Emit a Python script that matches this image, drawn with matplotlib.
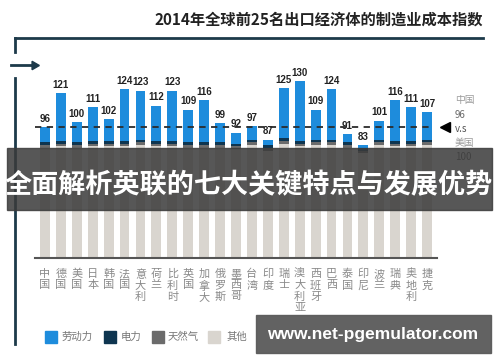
"""Manufacturing cost index 2014, top 25 exporting economies"""
import matplotlib
matplotlib.use('Agg')
import matplotlib.pyplot as plt
from matplotlib.patches import Rectangle

plt.rcParams['font.family'] = ['Noto Sans CJK SC', 'DejaVu Sans']

countries = ['中国', '德国', '美国', '日本', '韩国', '法国', '意大利', '荷兰', '比利时',
             '英国', '加拿大', '俄罗斯', '墨西哥', '台湾', '印度', '瑞士', '澳大利亚',
             '西班牙', '巴西', '泰国', '印尼', '波兰', '瑞典', '奥地利', '捷克']
totals = [96, 121, 100, 111, 102, 124, 123, 112, 123, 109, 116, 99, 92, 97, 87,
          125, 130, 109, 124, 91, 83, 101, 116, 111, 107]
labor = [11, 35, 15, 25, 16, 38, 36, 26, 37, 24, 31, 14, 8, 10, 4,
         37, 44, 22, 37, 6, 2, 14, 30, 25, 20]
electricity = [2, 2, 2, 2, 2, 2, 2, 2, 2, 2, 2, 2, 2, 2, 2,
               2, 2, 2, 2, 2, 2, 2, 2, 2, 2]
gas = [2, 2, 2, 2, 2, 2, 2, 2, 2, 2, 2, 2, 2, 2, 2,
       2, 2, 2, 2, 2, 2, 2, 2, 2, 2]
other = [81, 82, 81, 82, 82, 82, 83, 82, 82, 81, 81, 81, 80, 83, 79,
         84, 82, 83, 83, 81, 77, 83, 82, 82, 83]
legend_labels = ['劳动力', '电力', '天然气', '其他']
colors = ['#1e8cdc', '#0e3550', '#6b6b6b', '#d9d5cf']
title = '2014年全球前25名出口经济体的制造业成本指数'
banner = '全面解析英联的七大关键特点与发展优势'
watermark = 'www.net-pgemulator.com'

W, H = 500, 362


def fx(px):
    return px / W


def fy(py):
    return 1 - py / H


fig = plt.figure(figsize=(5, 3.62), dpi=100)

ax = fig.add_axes([fx(35.4), fy(258), fx(436.6) - fx(35.4), (258 - 67.6) / H])
ax.set_xlim(-0.6, 24.6)
ax.set_ylim(0, 140)
ax.axis('off')

xs = list(range(len(countries)))
bw = 0.62
bottom = [0] * len(xs)
for series, col in [(other, colors[3]), (gas, colors[2]),
                    (electricity, colors[1]), (labor, colors[0])]:
    ax.bar(xs, series, bw, bottom=bottom, color=col, linewidth=0)
    bottom = [b + s for b, s in zip(bottom, series)]

for x, t in zip(xs, totals):
    ax.text(x, t + 2.5, str(t), ha='center', va='bottom', fontsize=7,
            fontweight='bold', color='#222222', family='Liberation Sans')

# reference line at China's level
ax.plot([-0.6, 24.4], [totals[0], totals[0]], ls=(0, (3.5, 3)), color='#2b2b2b',
        lw=1.3, zorder=5)
ax.plot(25.1, totals[0], marker='<', ms=7, color='black', clip_on=False, zorder=6)
ax.plot([-0.6, 24.6], [0, 0], color='#555555', lw=1.5, clip_on=False)

# right side note
for txt, py, col in [('中国', 100, '#9a9a9a'), ('96', 115, '#6a6a6a'),
                     ('v.s', 129, '#555555'), ('美国', 143, '#9a9a9a'),
                     ('100', 157, '#6a6a6a')]:
    fig.text(fx(455), fy(py), txt, fontsize=7, style='italic', color=col,
             va='center', ha='left')

# country labels, written vertically
for x, name in zip(xs, countries):
    px = 35.4 + (x + 0.6) * (436.6 - 35.4) / 25.2
    fig.text(fx(px), fy(269), '\n'.join(name), fontsize=8, color='#8a8a8a',
             ha='center', va='top', linespacing=1.15)

# title and frame
fig.text(fx(319), fy(20), title, fontsize=11, fontweight='bold',
         color='#222222', ha='center', va='center')
frame = '#1d3a4a'
fig.add_artist(plt.Line2D([fx(15), fx(483)], [fy(38), fy(38)], color=frame, lw=2))
fig.add_artist(plt.Line2D([fx(15), fx(15)], [fy(38), fy(52)], color=frame, lw=2))
fig.add_artist(plt.Line2D([fx(15), fx(15)], [fy(78), fy(344)], color=frame, lw=2))
fig.add_artist(plt.Line2D([fx(11), fx(33)], [fy(65), fy(65)], color=frame, lw=2))
fig.add_artist(plt.Line2D([fx(34)], [fy(65)], marker=(3, 0, -90), ms=7,
                          color=frame, lw=0))

# legend
for (px, lx), lab, col in zip([(45, 62), (104, 121), (152, 168), (208, 227)],
                              legend_labels, colors):
    fig.add_artist(Rectangle((fx(px), fy(343)), 12 / W, 12 / H, color=col,
                             transform=fig.transFigure))
    fig.text(fx(lx), fy(337), lab, fontsize=7.5, color='#777777', va='center')

# overlay banner
fig.add_artist(Rectangle((fx(7), fy(210)), fx(492) - fx(7), (210 - 148) / H,
                         color='#3a3a3a', alpha=0.85, transform=fig.transFigure,
                         zorder=10))
fig.text(fx(249), fy(185), banner, fontsize=19.5, fontweight='bold',
         color='white', ha='center', va='center', zorder=11)

# watermark
fig.add_artist(Rectangle((fx(256), fy(353)), fx(491) - fx(256), (353 - 315) / H,
                         color='#5a5a5a', alpha=0.95, transform=fig.transFigure,
                         zorder=10))
fig.text(fx(373), fy(334), watermark, fontsize=12.5, fontweight='bold',
         color='white', ha='center', va='center', family='Liberation Sans',
         zorder=11)

fig.savefig('out.png', dpi=100)
